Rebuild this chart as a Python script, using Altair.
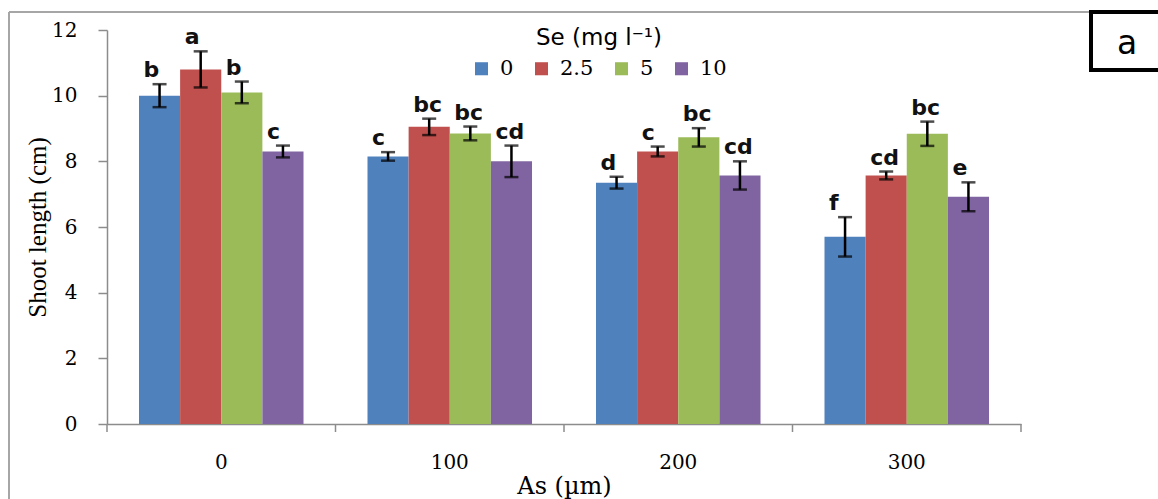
import altair as alt
import pandas as pd

as_levels = ["0", "100", "200", "300"]
se_levels = ["0", "2.5", "5", "10"]
colors = ["#4F81BD", "#C0504D", "#9BBB59", "#8064A2"]

mean_as0 = [10.0, 10.8, 10.1, 8.3]
mean_as100 = [8.15, 9.05, 8.85, 8.0]
mean_as200 = [7.35, 8.3, 8.73, 7.57]
mean_as300 = [5.7, 7.57, 8.84, 6.92]

err_as0 = [0.35, 0.55, 0.33, 0.18]
err_as100 = [0.13, 0.25, 0.21, 0.48]
err_as200 = [0.18, 0.15, 0.28, 0.43]
err_as300 = [0.60, 0.12, 0.37, 0.44]

let_as0 = ["b", "a", "b", "c"]
let_as100 = ["c", "bc", "bc", "cd"]
let_as200 = ["d", "c", "bc", "cd"]
let_as300 = ["f", "cd", "bc", "e"]

y_ticks = [0, 2, 4, 6, 8, 10, 12]

means = [mean_as0, mean_as100, mean_as200, mean_as300]
errs = [err_as0, err_as100, err_as200, err_as300]
lets = [let_as0, let_as100, let_as200, let_as300]

rows = []
for i, a in enumerate(as_levels):
    for j, s in enumerate(se_levels):
        m = means[i][j]
        e = errs[i][j]
        rows.append({"As": a, "Se": s, "mean": m, "lo": m - e, "hi": m + e, "lab": lets[i][j]})
df = pd.DataFrame(rows)

# category boundaries for the x-axis tick marks (between groups)
bounds = pd.DataFrame({"b": list(range(len(as_levels) + 1))})

axis_gray = "#8c8c8c"
serif = "Liberation Serif"

x_enc = alt.X("As:N", sort=as_levels,
              scale=alt.Scale(paddingInner=0.28, paddingOuter=0.14),
              axis=alt.Axis(title="As (µm)", labelAngle=0, ticks=False,
                            domainColor=axis_gray, domainWidth=1.5,
                            labelFont="DejaVu Serif", labelFontSize=20, labelColor="black",
                            labelBaseline="alphabetic", labelPadding=44,
                            titleFont="DejaVu Serif", titleFontSize=24, titleFontWeight="normal",
                            titleColor="black", titleBaseline="alphabetic", titleY=69))
xo_enc = alt.XOffset("Se:N", sort=se_levels, scale=alt.Scale(paddingInner=0, paddingOuter=0))
y_axis = alt.Axis(title="Shoot length (cm)", values=y_ticks, grid=False,
                  tickSize=9, tickColor=axis_gray, domainColor=axis_gray, domainWidth=1.5,
                  tickWidth=1.5,
                  labelFont="DejaVu Serif", labelFontSize=20, labelColor="black", labelPadding=21,
                  titleFont=serif, titleFontSize=25, titleFontWeight="normal",
                  titleColor="black", titleX=-70, titleY=197, titleAlign="center",
                  titleBaseline="middle")
y_scale = alt.Scale(domain=[0, 12], nice=False)

base = alt.Chart(df)

bars = base.mark_bar().encode(
    x=x_enc, xOffset=xo_enc,
    y=alt.Y("mean:Q", scale=y_scale, axis=y_axis),
    color=alt.Color("Se:N", sort=se_levels,
                    scale=alt.Scale(domain=se_levels, range=colors),
                    legend=alt.Legend(title="Se (mg l⁻¹)", orient="none", legendX=364, legendY=-3,
                                      direction="horizontal", titleAnchor="middle",
                                      titleFont="DejaVu Sans", titleFontSize=23,
                                      titleFontWeight="normal", titleColor="black",
                                      titlePadding=8,
                                      labelFont="DejaVu Serif", labelFontSize=21,
                                      labelColor="black", symbolType="square",
                                      symbolSize=170, symbolStrokeWidth=0,
                                      columnPadding=17, labelOffset=8)),
)

rules = base.mark_rule(color="black", strokeWidth=2.5).encode(
    x=x_enc, xOffset=xo_enc, y=alt.Y("lo:Q", scale=y_scale), y2="hi:Q")
cap_lo = base.mark_tick(color="black", thickness=2.5, size=14, orient="horizontal").encode(
    x=x_enc, xOffset=xo_enc, y=alt.Y("lo:Q", scale=y_scale))
cap_hi = base.mark_tick(color="black", thickness=2.5, size=14, orient="horizontal").encode(
    x=x_enc, xOffset=xo_enc, y=alt.Y("hi:Q", scale=y_scale))

labels = base.mark_text(font="DejaVu Sans", fontSize=22, fontWeight="bold", color="#111111",
                        align="left", baseline="alphabetic", dx=-16, dy=-7).encode(
    x=x_enc, xOffset=xo_enc, y=alt.Y("hi:Q", scale=y_scale), text="lab:N")

main = alt.layer(bars, rules, cap_lo, cap_hi, labels)

xticks = alt.Chart(bounds).mark_rule(color=axis_gray, strokeWidth=1.5).encode(
    x=alt.X("b:Q", scale=alt.Scale(domain=[0, len(as_levels)], nice=False, zero=False), axis=None),
    y=alt.value(394), y2=alt.value(402))

deco = alt.Chart(pd.DataFrame({"k": [0]}))
frame_left = deco.mark_rule(color="#a6a6a6", strokeWidth=2).encode(
    x=alt.value(-98), y=alt.value(-18), y2=alt.value(469))
frame_top = deco.mark_rule(color="#a6a6a6", strokeWidth=2).encode(
    x=alt.value(-98), x2=alt.value(984), y=alt.value(-18))
box = deco.mark_rect(fill="white", stroke="black", strokeWidth=4).encode(
    x=alt.value(984), x2=alt.value(1070), y=alt.value(-18), y2=alt.value(40))
box_text = deco.mark_text(text="a", font="DejaVu Sans", fontSize=33, color="black",
                          align="center", baseline="middle").encode(
    x=alt.value(1020), y=alt.value(14))

chart = alt.layer(frame_left, frame_top, main, xticks,
                  box, box_text).resolve_scale(x="independent").properties(
    width=914, height=394,
    autosize=alt.AutoSizeParams(type="none"),
    padding={"left": 107, "top": 30, "right": 137, "bottom": 75},
    background="white",
).configure_view(strokeWidth=0)

chart.save("out.html", embed_options={"renderer": "svg", "actions": False})
